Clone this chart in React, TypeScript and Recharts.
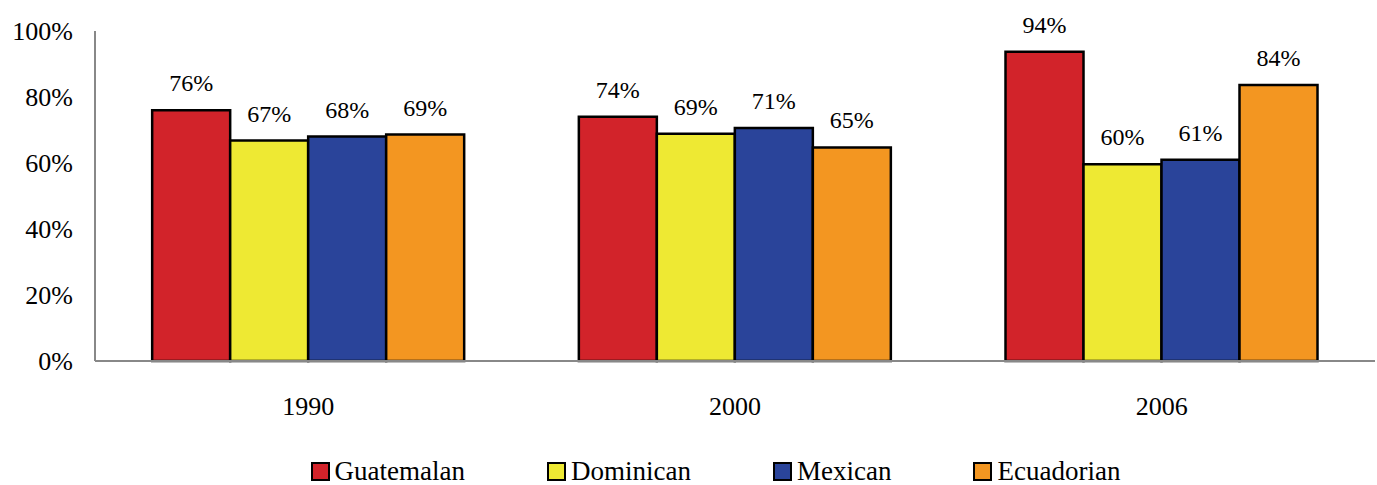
import React from "react";
import { BarChart, Bar, XAxis, YAxis, LabelList, Legend } from "recharts";

const years = ["1990", "2000", "2006"];
const guatemalan = [76.0, 74.0, 93.7];
const dominican = [66.8, 68.9, 59.6];
const mexican = [68.0, 70.6, 61.0];
const ecuadorian = [68.6, 64.7, 83.6];
const yTicks = [0, 20, 40, 60, 80, 100];

const seriesNames = ["Guatemalan", "Dominican", "Mexican", "Ecuadorian"];
const seriesKeys = ["guatemalan", "dominican", "mexican", "ecuadorian"];
const seriesColors = ["#D2232A", "#EEE933", "#2A449A", "#F39621"];

const data = years.map((y, i) => ({
  year: y,
  guatemalan: guatemalan[i],
  dominican: dominican[i],
  mexican: mexican[i],
  ecuadorian: ecuadorian[i],
}));

const FONT = "Liberation Serif, Times New Roman, serif";

const renderLegend = () => (
  <div
    style={{
      display: "flex",
      justifyContent: "center",
      alignItems: "center",
      fontFamily: FONT,
      fontSize: 27,
      color: "#000",
      paddingLeft: 56,
      marginTop: 31,
      lineHeight: "30px",
    }}
  >
    {seriesNames.map((n, i) => (
      <div
        key={n}
        style={{
          display: "flex",
          alignItems: "center",
          marginRight: i < seriesNames.length - 1 ? 82 : 0,
        }}
      >
        <span
          style={{
            display: "inline-block",
            width: 15,
            height: 15,
            background: seriesColors[i],
            border: "2.5px solid #000",
            marginRight: 5,
          }}
        />
        <span style={{ fontFamily: FONT }}>{n}</span>
      </div>
    ))}
  </div>
);

export default function App() {
  return (
    <div style={{ position: "absolute", left: 0, top: 0, background: "#fff", fontFamily: FONT }}>
      <BarChart
        width={1377}
        height={485}
        data={data}
        margin={{ top: 31, right: 2, bottom: 0, left: 0 }}
        barCategoryGap="13.4%"
        barGap={0}
      >
        <XAxis
          dataKey="year"
          axisLine={{ stroke: "#888", strokeWidth: 2 }}
          tickLine={false}
          tick={{ fill: "#000", fontSize: 26, fontFamily: FONT }}
          tickMargin={30}
          height={124 - 60}
        />
        <YAxis
          domain={[0, 100]}
          ticks={yTicks}
          tickFormatter={(v: number) => `${v}%`}
          axisLine={{ stroke: "#888", strokeWidth: 2 }}
          tickLine={false}
          tick={{ fill: "#000", fontSize: 26, fontFamily: FONT }}
          tickMargin={16}
          width={95}
          interval={0}
        />
        <Legend verticalAlign="bottom" height={60} content={renderLegend} />
        {seriesKeys.map((k, i) => (
          <Bar
            key={k}
            dataKey={k}
            name={seriesNames[i]}
            fill={seriesColors[i]}
            stroke="#000"
            strokeWidth={2.5}
            isAnimationActive={false}
          >
            <LabelList
              dataKey={k}
              position="top"
              offset={19}
              fill="#000"
              fontSize={24}
              fontFamily={FONT}
              formatter={(v: number) => `${Math.round(v)}%`}
            />
          </Bar>
        ))}
      </BarChart>
    </div>
  );
}
